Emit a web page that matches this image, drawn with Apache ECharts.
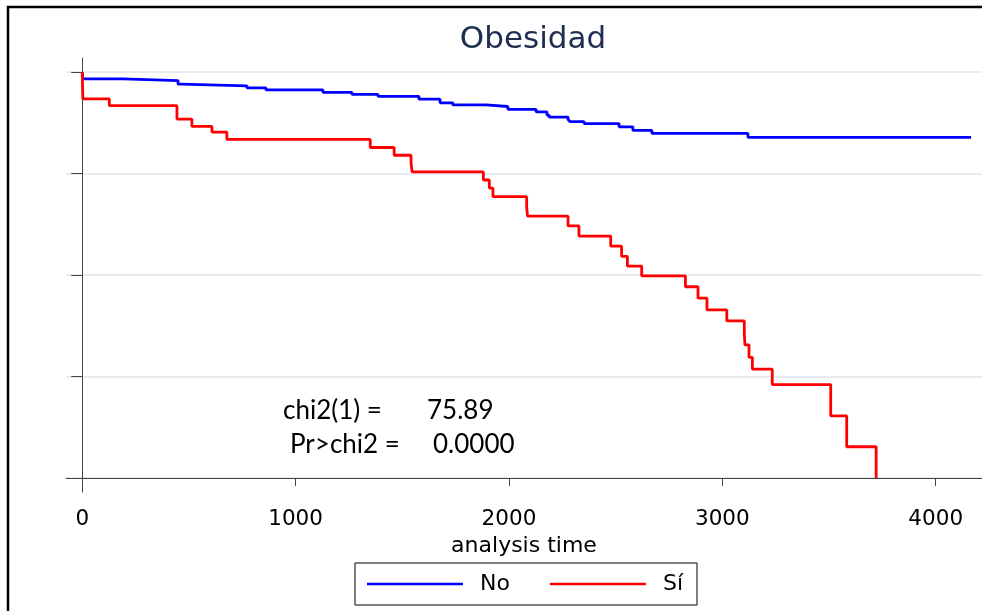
<!DOCTYPE html>
<html>
<head>
<meta charset="utf-8">
<script src="https://cdn.jsdelivr.net/npm/echarts@6/dist/echarts.min.js"></script>
<style>
    html, body { margin: 0; padding: 0; background: #fff; overflow: hidden; }
    #main { width: 982px; height: 611px; }
</style>
</head>
<body>
<div id="main"></div>
<script>
// ticks
var xTicks = [0, 1000, 2000, 3000, 4000];
var yTicks = [0, 0.25, 0.5, 0.75, 1];

// Kaplan-Meier, Obesidad = No
var noData = [
    [0, 1], [3, 0.983], [191, 0.979], [449, 0.970], [463, 0.966], [772, 0.961],
    [861, 0.956], [1128, 0.950], [1264, 0.945], [1386, 0.940], [1578, 0.933],
    [1677, 0.924], [1737, 0.919], [1892, 0.915], [1995, 0.908], [2127, 0.902],
    [2178, 0.894], [2188, 0.889], [2277, 0.883], [2286, 0.878], [2352, 0.873],
    [2516, 0.865], [2581, 0.856], [2670, 0.849], [3120, 0.839], [4166, 0.839]
];
// Kaplan-Meier, Obesidad = Sí
var siData = [
    [0, 1], [3, 0.934], [127, 0.917], [444, 0.884], [514, 0.866], [608, 0.852],
    [678, 0.834], [1350, 0.814], [1462, 0.795], [1541, 0.776], [1546, 0.754],
    [1880, 0.734], [1908, 0.714], [1925, 0.693], [2083, 0.668], [2087, 0.645],
    [2277, 0.621], [2328, 0.596], [2477, 0.571], [2528, 0.546], [2555, 0.522],
    [2622, 0.498], [2827, 0.471], [2886, 0.443], [2928, 0.414], [3021, 0.387],
    [3103, 0.355], [3106, 0.328], [3125, 0.297], [3141, 0.268], [3234, 0.230],
    [3508, 0.153], [3583, 0.077], [3721, 0]
];
var seriesNames = ['No', 'Sí'];
var chiLabels = ['chi2(1) =', 'Pr>chi2 ='];
var chiValues = ['75.89', '0.0000'];

var myChart = echarts.init(document.getElementById('main'));

var annFont = '26px Lato';

var option = {
    animation: false,
    title: {
        text: 'Obesidad',
        left: 528,
        textAlign: 'center',
        top: 19,
        textStyle: {
            fontFamily: 'DejaVu Sans',
            fontSize: 31,
            fontWeight: 'normal',
            color: '#1f2d50'
        }
    },
    grid: {
        left: 66,
        right: 0,
        top: 58,
        bottom: 119
    },
    legend: {
        data: seriesNames,
        left: 355,
        top: 563,
        orient: 'horizontal',
        icon: 'rect',
        itemWidth: 96,
        itemHeight: 2.5,
        itemGap: 40,
        padding: [10, 14, 10, 12],
        borderColor: '#000',
        borderWidth: 1,
        textStyle: {
            fontFamily: 'DejaVu Sans',
            fontSize: 22,
            color: '#000',
            padding: [0, 0, 0, 12]
        }
    },
    xAxis: {
        type: 'value',
        min: -76,
        max: 4217,
        name: 'analysis time',
        nameLocation: 'middle',
        nameGap: 34,
        nameTextStyle: {
            fontFamily: 'DejaVu Sans',
            fontSize: 22,
            color: '#000'
        },
        axisLine: { lineStyle: { color: '#444', width: 1 } },
        axisTick: {
            customValues: xTicks,
            length: 8,
            lineStyle: { color: '#444' }
        },
        axisLabel: {
            customValues: xTicks,
            margin: 16,
            fontFamily: 'DejaVu Sans',
            fontSize: 21.5,
            color: '#000',
            formatter: function (v) { return String(v); }
        },
        splitLine: { show: false }
    },
    yAxis: {
        type: 'value',
        min: -0.0345,
        max: 1.0345,
        axisLine: { show: true, lineStyle: { color: '#444', width: 1 } },
        axisTick: {
            show: true,
            customValues: yTicks,
            length: 11,
            lineStyle: { color: '#444' }
        },
        axisLabel: { show: false },
        splitLine: {
            show: true,
            lineStyle: { color: '#e6edf2', width: 2 }
        }
    },
    series: [
        {
            name: seriesNames[0],
            type: 'line',
            step: 'end',
            symbol: 'none',
            color: '#0000ff',
            lineStyle: { color: '#0000ff', width: 2.8 },
            data: noData
        },
        {
            name: seriesNames[1],
            type: 'line',
            step: 'end',
            symbol: 'none',
            color: '#ff0000',
            lineStyle: { color: '#ff0000', width: 2.8 },
            data: siData
        }
    ],
    graphic: [
        {
            // outer frame: only left and top edges are in view
            type: 'polyline',
            silent: true,
            shape: { points: [[8, 640], [8, 7], [1000, 7]] },
            style: { fill: null, stroke: '#000', lineWidth: 2.5 }
        },
        {
            type: 'text', x: 283, y: 411,
            style: { text: chiLabels[0], font: annFont, fill: '#000', verticalAlign: 'middle' }
        },
        {
            type: 'text', x: 427, y: 411,
            style: { text: chiValues[0], font: annFont, fill: '#000', verticalAlign: 'middle' }
        },
        {
            type: 'text', x: 290, y: 445,
            style: { text: chiLabels[1], font: annFont, fill: '#000', verticalAlign: 'middle' }
        },
        {
            type: 'text', x: 433, y: 445,
            style: { text: chiValues[1], font: annFont, fill: '#000', verticalAlign: 'middle' }
        }
    ]
};

myChart.setOption(option);
</script>
</body>
</html>
